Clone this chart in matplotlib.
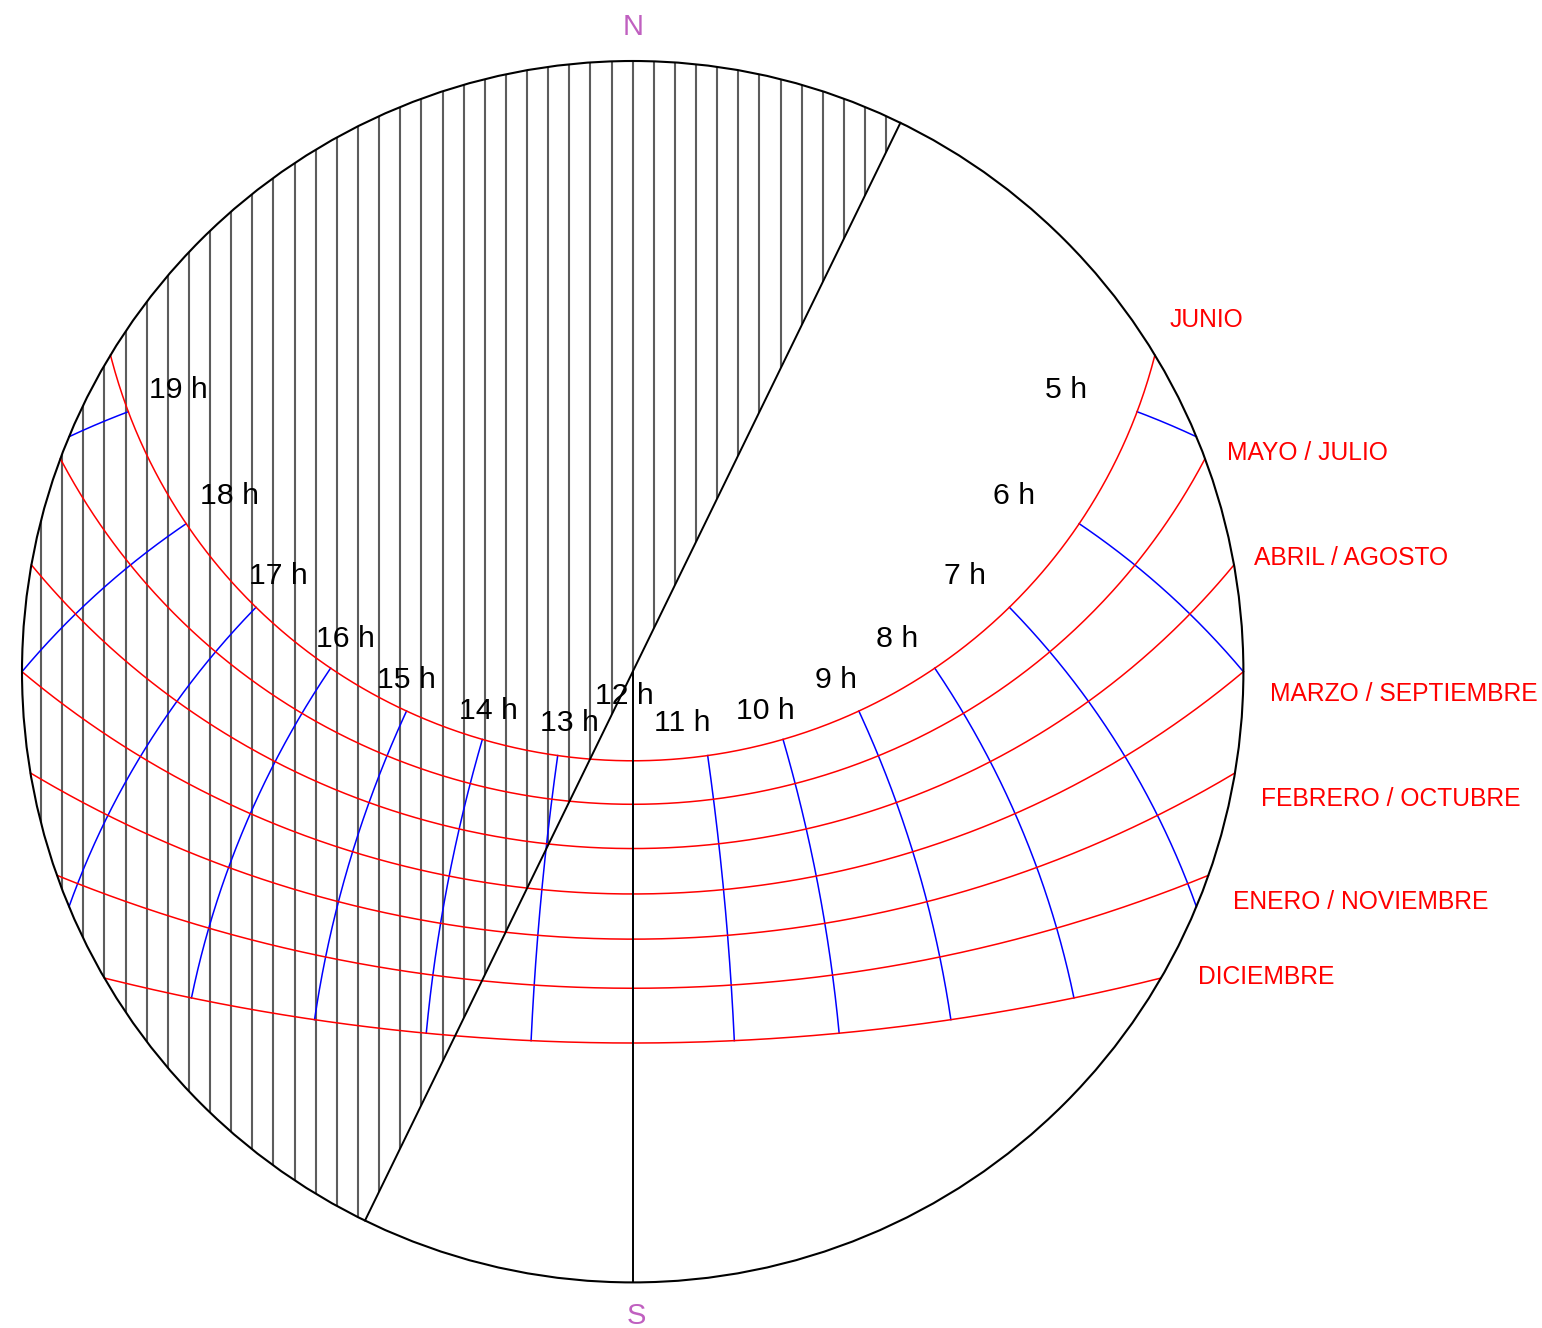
import numpy as np
import matplotlib.pyplot as plt
from matplotlib.patches import Circle, Wedge

plt.rcParams['font.family'] = ['Liberation Sans', 'DejaVu Sans']

# datos del diagrama solar (proyeccion estereografica)
latitude = 40.0
months = ['JUNIO', 'MAYO / JULIO', 'ABRIL / AGOSTO', 'MARZO / SEPTIEMBRE',
          'FEBRERO / OCTUBRE', 'ENERO / NOVIEMBRE', 'DICIEMBRE']
declinations = [23.4, 15.5, 7.7, 0.0, -7.3, -14.8, -22.6]
hours = [5, 6, 7, 8, 9, 10, 11, 12, 13, 14, 15, 16, 17, 18, 19]
hour_labels = [f'{h} h' for h in hours]
obstacle_azimuth = 26.0  # linea de sombra, grados desde el norte
hatch_step = 0.0346      # separacion del rayado (radio = 1)

# desplazamiento de las etiquetas (pixeles, y hacia abajo)
hour_label_offset = [(-71, -22), (-65, -28), (-44, -31), (-38, -29), (-23, -31),
                     (-18, -28), (-25, -33), (-8, -65), (12, -33), (6, -28),
                     (0, -31), (15, -29), (22, -31), (43, -28), (50, -22)]
month_label_shift = [(-9, -21), (-4, 4), (-7, -2), (-1, 22), (-1, 21), (-1, 17), (13, -15)]


def project(dec, ha, lat=latitude):
    d, h, p = np.radians(dec), np.radians(ha), np.radians(lat)
    east = -np.cos(d) * np.sin(h)
    north = np.sin(d) * np.cos(p) - np.cos(d) * np.cos(h) * np.sin(p)
    up = np.sin(d) * np.sin(p) + np.cos(d) * np.cos(h) * np.cos(p)
    return east / (1 + up), north / (1 + up)


def day_curve(dec):
    h0 = np.degrees(np.arccos(-np.tan(np.radians(latitude)) * np.tan(np.radians(dec))))
    ha = np.linspace(-h0, h0, 500)
    return project(dec, ha)


def hour_curve(hour):
    ha = 15.0 * (hour - 12)
    d0 = np.degrees(np.arctan(-np.cos(np.radians(ha)) / np.tan(np.radians(latitude))))
    d_lo = max(min(declinations), d0)
    dec = np.linspace(d_lo, max(declinations), 300)
    return project(dec, ha)


W, H = 1542, 1328
R_PX = 610.7
CX, CY = 632.7, 671.7

fig = plt.figure(figsize=(W / 100, H / 100), dpi=100)
ax = fig.add_axes([0, 0, 1, 1])
ax.set_xlim(-CX / R_PX, (W - CX) / R_PX)
ax.set_ylim(-(H - CY) / R_PX, CY / R_PX)
ax.axis('off')

# rayado de la zona en sombra
clip = Wedge((0, 0), 1.0, 90 - obstacle_azimuth, 270 - obstacle_azimuth, transform=ax.transData)
xs = np.arange(-29, 30) * hatch_step
lc = ax.vlines(xs, -1, 1, colors='#5c5c5c', lw=1.5, zorder=1)
lc.set_clip_path(clip)

# lineas horarias
for h in hours:
    x, y = hour_curve(h)
    ax.plot(x, y, color='#0000ff', lw=1.1, zorder=2)

# trayectorias por mes
for dec in declinations:
    x, y = day_curve(dec)
    ax.plot(x, y, color='#ff0000', lw=1.1, zorder=3)

# meridiano sur y linea de obstaculo
ax.plot([0, 0], [0, -1], color='black', lw=1.4, zorder=4)
a = np.radians(obstacle_azimuth)
ax.plot([np.sin(a), -np.sin(a)], [np.cos(a), -np.cos(a)], color='black', lw=1.4, zorder=4)
ax.add_patch(Circle((0, 0), 1.0, fill=False, ec='black', lw=1.5, zorder=5))

# etiquetas horarias junto a la curva de junio
xj, yj = project(declinations[0], 15.0 * (np.array(hours) - 12))
for lab, x, y, (dx, dy) in zip(hour_labels, xj, yj, hour_label_offset):
    ax.annotate(lab, (x, y), xytext=(dx * 0.72, -dy * 0.72), textcoords='offset points',
                fontsize=21.8, ha='center', va='center', zorder=6)

# etiquetas de meses en el punto de salida del sol
for name, dec, (dx, dy) in zip(months, declinations, month_label_shift):
    az = np.arccos(np.sin(np.radians(dec)) / np.cos(np.radians(latitude)))
    ax.annotate(name, (1.045 * np.sin(az), 1.045 * np.cos(az)), xytext=(dx * 0.72, -dy * 0.72),
                textcoords='offset points', color='#ff0000', fontsize=17.7,
                ha='left', va='center')

ax.text(0, 1.055, 'N', color='#c060c0', fontsize=21, ha='center', va='center')
ax.text(0.006, -1.055, 'S', color='#c060c0', fontsize=21, ha='center', va='center')

fig.savefig('out.png', dpi=100)
